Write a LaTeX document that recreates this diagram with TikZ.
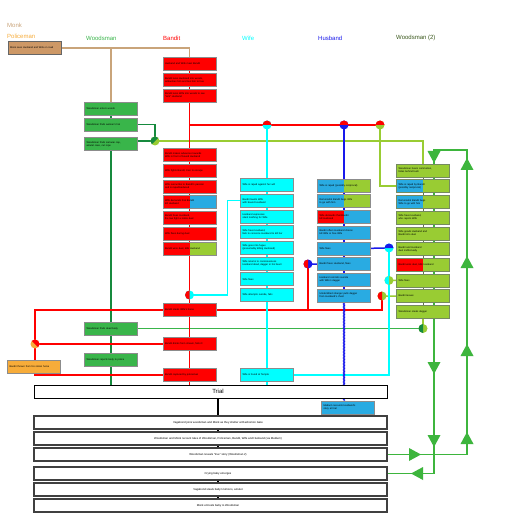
\documentclass[tikz,border=0pt]{standalone}
\usepackage{fontspec}
\setmainfont{Liberation Sans}
\usepackage{xcolor}
\usepackage{tikz}
\usetikzlibrary{positioning, calc, backgrounds, decorations.pathmorphing}

\definecolor{monkclr}{RGB}{201,164,122}
\definecolor{monkfill}{RGB}{205,152,102}
\definecolor{policeclr}{RGB}{247,172,58}
\definecolor{woodclr}{RGB}{57,181,74}
\definecolor{wooddark}{RGB}{22,138,62}
\definecolor{woodtwo}{RGB}{153,204,51}
\definecolor{woodtwohead}{RGB}{58,88,28}
\definecolor{wifeclr}{RGB}{0,255,255}
\definecolor{banditclr}{RGB}{255,0,0}
\definecolor{husbfill}{RGB}{41,171,226}
\definecolor{husbclr}{RGB}{25,25,235}
\definecolor{loopclr}{RGB}{61,181,61}

\tikzstyle{head} = [anchor=west, inner sep=0pt, font=\fontsize{6}{7}\selectfont]
\tikzstyle{box} = [rectangle, text width=49pt, minimum height=13pt, inner sep=2pt, align=left, draw=black!45, line width=0.5pt, font=\fontsize{2.5}{3}\selectfont]
\tikzstyle{monkbox} = [box, fill=monkfill, draw=black!60]
\tikzstyle{policebox} = [box, fill=policeclr]
\tikzstyle{woodbox} = [box, fill=woodclr]
\tikzstyle{banditbox} = [box, fill=banditclr]
\tikzstyle{wifebox} = [box, fill=wifeclr]
\tikzstyle{husbbox} = [box, fill=husbfill]
\tikzstyle{twobox} = [box, fill=woodtwo, draw=woodtwohead!70]
\tikzstyle{tale} = [rectangle, minimum width=353pt, minimum height=13pt, inner sep=0pt, draw=black!75, line width=1.3pt, fill=white, font=\fontsize{2.8}{3}\selectfont, execute at begin node={\hspace*{15pt}}]
\tikzstyle{wire} = [line width=1.5pt]
\tikzset{lefthalf/.style={path picture={\fill[#1] (path picture bounding box.north west) rectangle (path picture bounding box.south);}}}

\newcommand{\halfdot}[4]{%
  \fill[#3] (#1) circle (4.5pt);
  \fill[#2, shift={(#1)}, rotate=#4] (4.5pt,0pt) arc (0:180:4.5pt) -- cycle;}
\newcommand{\looptip}[2]{%
  \fill[loopclr, shift={#1}, rotate=#2] (-6pt,-6.5pt) -- (-6pt,6.5pt) -- (6pt,0pt) -- cycle;}

\begin{document}
\begin{tikzpicture}[x=1pt, y=-1pt, node distance=15.7pt]
\useasboundingbox (0,0) rectangle (520,526);

% column heads
\node (hmonk) [head, text=monkclr] at (7,25) {Monk};
\node (hpolice) [head, text=policeclr] at (7,36) {Policeman};
\node (hwood) [head, text=woodclr] at (86,38) {Woodsman};
\node (hbandit) [head, text=banditclr] at (163,38) {Bandit};
\node (hwife) [head, text=wifeclr] at (242,38) {Wife};
\node (hhusb) [head, text=husbclr] at (318,38) {Husband};
\node (htwo) [head, text=woodtwohead] at (396,38) {Woodsman (2)};

% monk and policeman
\node (monk) [monkbox] at (34.5,48) {Monk sees Husband and Wife on road};
\node (police) [policebox] at (34,366.5) {Bandit thrown from his stolen horse};

% woodsman
\node (w1) [woodbox] at (111,109) {Woodsman enters woods};
\node (w2) [woodbox, below of=w1] {Woodsman finds woman's hat};
\node (w3) [woodbox, below of=w2, yshift=-3.5pt] {Woodsman finds samurai cap,\\ amulet case, cut rope};
\node (w4) [woodbox] at (111,328.5) {Woodsman finds dead body};
\node (w5) [woodbox, below of=w4, yshift=-16pt] {Woodsman reports body to police};

% bandit
\node (b1) [banditbox] at (189.5,64) {Husband and Wife meet Bandit};
\node (b2) [banditbox, below of=b1] {Bandit lures Husband into woods,\\ ambushes him and ties him to tree};
\node (b3) [banditbox, below of=b2] {Bandit lures Wife into woods to see\\ "sick" Husband};
\node (b4) [banditbox] at (189.5,155) {Bandit makes advances towards\\ Wife in front of bound Husband};
\node (b5) [banditbox, below of=b4] {Wife fights Bandit, tries to escape};
\node (b6) [banditbox, below of=b5] {Wife succumbs to Bandit's passion\\ and is raped/seduced};
\node (b7) [banditbox, fill=husbfill, lefthalf=banditclr, below of=b6] {Wife demands that Bandit\\ kill Husband};
\node (b8) [banditbox, below of=b7] {Bandit frees Husband,\\ the two fight a noble duel};
\node (b9) [banditbox, below of=b8] {Wife flees during duel};
\node (b10) [banditbox, fill=woodtwo, lefthalf=banditclr, below of=b9] {Bandit wins duel, kills Husband};
\node (b11) [banditbox] at (189.5,310) {Bandit steals Wife's horse};
\node (b12) [banditbox] at (189.5,344) {Bandit drinks from stream, falls ill};
\node (b13) [banditbox] at (189.5,375) {Bandit captured by policeman};

% wife
\node (f1) [wifebox] at (267,185) {Wife is raped against her will};
\node (f2) [wifebox, below of=f1] {Bandit taunts Wife\\ with bound Husband};
\node (f3) [wifebox, below of=f2] {Husband expresses\\ silent loathing for Wife};
\node (f4) [wifebox, below of=f3] {Wife frees Husband,\\ fails to convince Husband to kill her};
\node (f5) [wifebox, below of=f4] {Wife goes into fugue\\ (presumably killing Husband)};
\node (f6) [wifebox, below of=f5] {Wife returns to consciousness\\ Husband dead, dagger in his heart};
\node (f7) [wifebox, below of=f6] {Wife flees};
\node (f8) [wifebox, below of=f7] {Wife attempts suicide, fails};
\node (f9) [wifebox] at (267,375) {Wife is found at Temple};

% husband
\node (h1) [husbbox, fill=woodtwo, lefthalf=husbfill] at (344,185.5) {Wife is raped (possibly reciprocal)};
\node (h2) [husbbox, fill=woodtwo, lefthalf=husbfill, below of=h1] {Remorseful Bandit begs Wife\\ to go with him};
\node (h3) [husbbox, lefthalf=banditclr, below of=h2] {Wife demands that Bandit\\ kill Husband};
\node (h4) [husbbox, below of=h3] {Bandit offers Husband choice:\\ kill Wife or free Wife};
\node (h5) [husbbox, below of=h4] {Wife flees};
\node (h6) [husbbox, below of=h5] {Bandit frees Husband, flees};
\node (h7) [husbbox, below of=h6] {Husband commits suicide\\ with Wife's dagger};
\node (h8) [husbbox, below of=h7] {Unidentified stranger pulls dagger\\ from Husband's chest};
\node (medium) [husbbox] at (348,407.5) {Medium recounts Husband's\\ story at trial};

% woodsman (2)
\node (t1) [twobox] at (423,170.5) {Woodsman hears commotion,\\ hides behind bush};
\node (t2) [twobox, lefthalf=husbfill, below of=t1] {Wife is raped by Bandit\\ (possibly reciprocal)};
\node (t3) [twobox, lefthalf=husbfill, below of=t2] {Remorseful Bandit begs\\ Wife to go with him};
\node (t4) [twobox, below of=t3] {Wife frees Husband,\\ who rejects Wife};
\node (t5) [twobox, below of=t4] {Wife goads Husband and\\ Bandit into duel};
\node (t6) [twobox, below of=t5] {Bandit and Husband\\ duel ineffectually};
\node (t7) [twobox, lefthalf=banditclr, below of=t6] {Bandit wins duel, kills Husband};
\node (t8) [twobox, below of=t7] {Wife flees};
\node (t9) [twobox, below of=t8] {Bandit leaves};
\node (t10) [twobox, below of=t9] {Woodsman steals dagger};

% trial and the gate
\node (trial) [tale, draw=black, line width=1pt, font=\fontsize{6}{7}\selectfont] at (210.5,391.5) {Trial};
\node (tA) [tale] at (210.5,422.5) {Vagabond joins woodsman and Monk as they shelter at Rashomon Gate};
\node (tB) [tale, below of=tA, node distance=16pt] {Woodsman and Monk recount tales of Woodsman, Policeman, Bandit, Wife and Husband (via Medium)};
\node (tC) [tale, below of=tB, node distance=16pt] {Woodsman reveals "true" story (Woodsman 2)};
\node (tD) [tale] at (210.5,473.5) {Crying baby emerges};
\node (tE) [tale, below of=tD, node distance=16pt] {Vagabond steals baby's kimono, amulet};
\node (tF) [tale, below of=tE, node distance=16pt] {Monk entrusts baby to Woodsman};

% junctions
\coordinate (jwood) at (155,141);
\coordinate (jwife) at (267,125);
\coordinate (jhusb) at (344,125);
\coordinate (jtwo) at (380,125);
\coordinate (jtaunt) at (189.5,295);
\coordinate (jfree) at (308,264);
\coordinate (jleave) at (382,296);
\coordinate (jflee) at (389,248);
\coordinate (jwfl) at (389,280.4);
\coordinate (jbody) at (423,328.5);
\coordinate (jpolice) at (35,344);
\coordinate (loopR) at (467,150);
\coordinate (loopL) at (434,150);
\coordinate (spine) at (218,400);

\begin{scope}[on background layer]
\fill[white] (0,0) rectangle (520,526);
% monk
\draw [wire, monkclr] (monk.east) -| (b1.north);
\draw [wire, monkclr] (monk.east -| w1.north) -- (w1.north);
% woodsman
\draw [wire, wooddark] (w1) -- (w2);
\draw [wire, wooddark] (w2.east) -| (jwood);
\draw [wire, wooddark] (w3.east |- jwood) -- (jwood);
\draw [wire, wooddark] (w3) -- (w3 |- trial.north);
\draw [wire, woodclr] (w4.east) -- (jbody);
% woodsman (2)
\draw [wire, woodtwo] (jwood) -| (t1.north);
\draw [wire, woodtwo] (jtwo) |- (t2.west);
\draw [wire, woodtwo] (jwfl) -- (t8.west);
\draw [wire, woodtwo] (jleave) -- (t9.west);
\draw [wire, woodtwo] (jbody) -- (t10.south);
\draw [line width=1pt, woodtwohead!80] (t1) -- (t10);
% bandit
\draw [wire, banditclr] (b1) -- (b13 |- trial.north);
\draw [wire, banditclr] (b3 |- jwife) -- (jtwo);
\draw [wire, banditclr] (b11.west) -| (jpolice);
\draw [wire, banditclr] (jpolice) -- (b12.west);
\draw [wire, banditclr] (jpolice) |- (b13.west);
\draw [wire, banditclr] (b11.east) -| (jleave);
\draw [wire, banditclr] (b11.east -| jfree) -- (jfree);
% wife
\draw [wire, wifeclr] (jwife) -- (jwife |- trial.north);
\draw [wire, wifeclr] (jtaunt) -| ([xshift=-13pt]f2.west) -- (f2.west);
\draw [wire, wifeclr] (jflee) |- (f9.east);
% husband
\draw [wire, husbclr] (jhusb) -- (h8);
\draw [wire, husbclr] (h5.east) -- (jflee);
\draw [wire, husbclr] (h6.west) -- (jfree);
\draw [husbclr, line width=0.8pt, decorate, decoration={zigzag, segment length=1.5pt, amplitude=0.6pt}] (h8.south) -- (h8.south |- medium.north);
% the gate
\draw [line width=1.3pt] (spine |- trial.south) -- (spine |- tA.north);
\draw [line width=1.3pt] (spine |- tA.south) -- (spine |- tB.north);
\draw [line width=1.3pt] (spine |- tB.south) -- (spine |- tC.north);
\draw [line width=1.3pt] (spine |- tD.south) -- (spine |- tE.north);
\draw [line width=1.3pt] (spine |- tE.south) -- (spine |- tF.north);
\draw [wire, loopclr] (tC.east) -| (loopR) -- (loopL) |- (tD.east);
\end{scope}

\halfdot{jwood}{wooddark}{woodtwo}{45}
\halfdot{jwife}{banditclr}{wifeclr}{0}
\halfdot{jhusb}{banditclr}{husbclr}{0}
\halfdot{jtwo}{banditclr}{woodtwo}{0}
\halfdot{jtaunt}{banditclr}{wifeclr}{90}
\halfdot{jfree}{banditclr}{husbclr}{90}
\halfdot{jleave}{banditclr}{woodtwo}{90}
\halfdot{jflee}{husbclr}{wifeclr}{0}
\halfdot{jwfl}{wifeclr}{woodtwo}{90}
\halfdot{jbody}{wooddark}{woodtwo}{90}
\halfdot{jpolice}{banditclr}{policeclr}{-45}

\looptip{(434,157)}{-90}
\looptip{(434,368)}{-90}
\looptip{(434,441)}{-90}
\looptip{(467,164)}{90}
\looptip{(467,262)}{90}
\looptip{(467,350)}{90}
\looptip{(467,438)}{90}
\looptip{(415,454.5)}{0}
\looptip{(417,473.5)}{180}
\end{tikzpicture}
\end{document}
